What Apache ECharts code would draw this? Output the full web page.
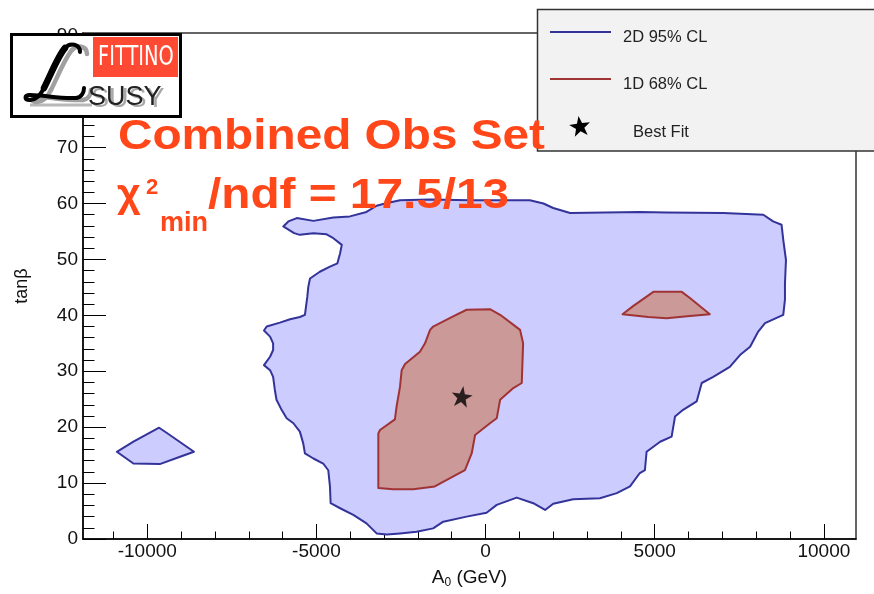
<!DOCTYPE html>
<html><head><meta charset="utf-8">
<script src="https://cdn.jsdelivr.net/npm/echarts@6/dist/echarts.min.js"></script>
<style>html,body{margin:0;padding:0;background:#fff}#c{width:874px;height:594px}</style>
</head><body><div id="c"></div>
<script>
// ---------- data ----------
const xRange = [-11900, 10950];
const yRange = [0, 90.5];
const xMajorTicks = [-10000, -5000, 0, 5000, 10000];
const xMinorTicks = [-11000, -9000, -8000, -7000, -6000, -4000, -3000, -2000, -1000, 1000, 2000, 3000, 4000, 6000, 7000, 8000, 9000];
const yMajorTicks = [0, 10, 20, 30, 40, 50, 60, 70, 80, 90];
const yMinorTicks = [2, 4, 6, 8, 12, 14, 16, 18, 22, 24, 26, 28, 32, 34, 36, 38, 42, 44, 46, 48, 52, 54, 56, 58, 62, 64, 66, 68, 72, 74, 76, 78, 82, 84, 86, 88];

// 2D 95% CL contour (main region), [A0, tanBeta]
const cl95Main = [[-5980,55.9],[-5830,56.8],[-5580,57.4],[-5090,56.9],[-4500,57.5],[-4010,57.7],[-3520,58.5],[-3220,59.6],[-2970,60.0],[-2530,60.6],[-1640,60.7],[-460,60.6],[1310,60.6],[1710,60.0],[2000,59.2],[2500,58.3],[4560,58.5],[5350,58.4],[7030,58.3],[8210,58.0],[8500,56.8],[8750,56.2],[8800,53.5],[8880,49.9],[8850,45.7],[8850,42.8],[8800,40.1],[8260,38.6],[8060,37.1],[7820,34.4],[7520,32.9],[7220,30.8],[6730,29.0],[6390,27.9],[6240,24.6],[5840,23.1],[5600,21.9],[5500,18.3],[5160,17.4],[4760,15.6],[4710,12.3],[4560,11.8],[4270,9.4],[3880,8.2],[3380,7.3],[2590,7.1],[2000,6.3],[1760,5.2],[1410,6.4],[920,7.4],[330,6.1],[30,4.7],[-560,4.0],[-1250,3.1],[-1550,1.9],[-2040,1.3],[-2530,1.0],[-2920,0.8],[-3220,1.0],[-3520,2.8],[-3910,4.3],[-4300,5.5],[-4580,6.4],[-4600,9.4],[-4650,12.3],[-4800,13.5],[-5090,14.4],[-5340,15.3],[-5390,17.1],[-5490,19.2],[-5680,20.7],[-5880,21.6],[-6030,23.1],[-6180,24.9],[-6230,26.7],[-6280,29.0],[-6370,30.2],[-6550,31.1],[-6370,32.6],[-6280,33.8],[-6280,35.0],[-6370,36.2],[-6550,37.3],[-6470,38.0],[-6080,38.7],[-5780,39.3],[-5490,39.7],[-5340,40.1],[-5270,43.3],[-5240,45.1],[-5190,46.6],[-4900,47.8],[-4600,48.7],[-4380,49.3],[-4300,51.1],[-4250,52.6],[-4500,53.8],[-4700,54.5],[-5090,54.7],[-5490,54.4],[-5660,54.7]];
// 2D 95% CL contour (small island)
const cl95Island = [[-10900,15.6],[-10410,17.4],[-9650,19.9],[-9430,19.0],[-8620,15.6],[-9030,14.7],[-9630,13.4],[-10410,13.5]];
// 1D 68% CL contour (main region)
const cl68Main = [[-3170,9.1],[-3170,18.9],[-3120,19.5],[-2680,21.4],[-2630,23.7],[-2530,27.2],[-2480,30.2],[-2380,31.3],[-1940,33.5],[-1790,35.0],[-1640,37.4],[-1550,38.0],[-960,39.8],[-560,41.0],[130,41.1],[430,40.1],[1020,37.4],[1110,35.0],[1070,27.9],[820,27.0],[430,24.9],[330,21.6],[130,20.7],[-310,18.6],[-410,15.3],[-610,12.3],[-1050,10.9],[-1500,9.4],[-2140,8.9],[-2730,8.9]];
// 1D 68% CL contour (small island)
const cl68Island = [[4050,40.2],[4370,41.7],[4960,44.2],[5800,44.2],[6040,43.1],[6630,40.2],[6040,39.9],[5350,39.5],[4810,39.7]];
// best fit point
const bestFit = [[-700, 25.5]];

// ---------- helpers ----------
const FONT = "'Liberation Sans', Arial, Helvetica, sans-serif";
const BLUE_FILL = '#ccccff', BLUE_LINE = '#333399';
const RED_FILL = '#cc9999', RED_LINE = '#a03333';
const ORANGE = '#ff4719';

function starPts(cx, cy, R, r, rotDeg) {
  const pts = [];
  for (let i = 0; i < 10; i++) {
    const a = (-90 + i * 36 + (rotDeg || 0)) * Math.PI / 180;
    const rr = i % 2 ? r : R;
    pts.push([cx + rr * Math.cos(a), cy + rr * Math.sin(a)]);
  }
  return pts;
}
const starSym = 'path://M' + starPts(50, 50, 50, 20, 0).map(p => p[0].toFixed(1) + ',' + p[1].toFixed(1)).join(' L') + ' Z';

function polySeries(name, pts, fill, stroke, z) {
  return {
    type: 'custom', name: name, coordinateSystem: 'cartesian2d', xAxisIndex: 0, yAxisIndex: 0,
    data: [pts[0]], z: z, silent: true, animation: false,
    renderItem: function (params, api) {
      return {
        type: 'polygon',
        shape: { points: pts.map(p => api.coord(p)) },
        style: { fill: fill, stroke: stroke, lineWidth: 2, lineJoin: 'round' }
      };
    }
  };
}

function txt(text, x, y, size, color, opts) {
  opts = opts || {};
  return {
    type: 'text', x: x, y: y, z: opts.z || 60, scaleX: opts.scaleX || 1, scaleY: opts.scaleY || 1,
    style: {
      text: text, fontSize: size, fontFamily: opts.family || FONT, fontWeight: opts.weight || 'normal',
      fill: color, align: opts.align || 'left', textAlign: opts.align || 'left',
      verticalAlign: 'middle', textVerticalAlign: 'middle'
    }
  };
}

// chain of cubic segments -> bezierCurve graphic elements (logo glyph)
function curveChain(start, segs, dx, dy, stroke, width, z) {
  const out = [];
  let p = start;
  segs.forEach(s => {
    out.push({ type: 'bezierCurve', z: z,
      shape: { x1: p[0] + dx, y1: p[1] + dy, cpx1: s[0] + dx, cpy1: s[1] + dy, cpx2: s[2] + dx, cpy2: s[3] + dy, x2: s[4] + dx, y2: s[5] + dy },
      style: { fill: null, stroke: stroke, lineWidth: width, lineCap: 'round' } });
    p = [s[4], s[5]];
  });
  return out;
}
const L_START = [80, 52];
const L_SEGS = [[80,44,70,42,65,48],[58,56,52,72,44,88],[40,96,36,100,30,100],[24,100,24,95,30,95],[44,95,60,99,76,98],[82,97,84,92,84,88]];

const axisCommon = {
  type: 'value', splitLine: { show: false }, axisPointer: { show: false }
};

const option = {
  backgroundColor: '#ffffff',
  animation: false,
  grid: { left: 83, top: 33, width: 773, height: 506, containLabel: false, outerBoundsMode: 'none',
          show: true, borderColor: '#333', borderWidth: 1.5, backgroundColor: 'transparent' },
  xAxis: [
    Object.assign({}, axisCommon, {
      min: xRange[0], max: xRange[1], position: 'bottom',
      axisLine: { show: true, onZero: false, lineStyle: { color: '#000', width: 1.5 } },
      axisTick: { show: true, inside: true, length: 15, customValues: xMajorTicks, lineStyle: { color: '#000', width: 1 } },
      axisLabel: { show: true, customValues: xMajorTicks, formatter: v => String(v), fontSize: 19, color: '#111', fontFamily: FONT, margin: 3 },
      name: '{a|A}{s|0}{a| (GeV)}', nameLocation: 'middle', nameGap: 28,
      nameTextStyle: { rich: {
        a: { fontSize: 19, color: '#111', fontFamily: FONT },
        s: { fontSize: 12, color: '#111', fontFamily: FONT, padding: [10, 0, 0, 0] }
      } }
    }),
    Object.assign({}, axisCommon, {
      min: xRange[0], max: xRange[1], position: 'bottom', offset: 0,
      axisLine: { show: false, onZero: false },
      axisTick: { show: true, inside: true, length: 7.5, customValues: xMinorTicks, lineStyle: { color: '#000', width: 1 } },
      axisLabel: { show: false }
    })
  ],
  yAxis: [
    Object.assign({}, axisCommon, {
      min: yRange[0], max: yRange[1], position: 'left',
      axisLine: { show: true, onZero: false, lineStyle: { color: '#000', width: 1.5 } },
      axisTick: { show: true, inside: true, length: 23, customValues: yMajorTicks, lineStyle: { color: '#000', width: 1 } },
      axisLabel: { show: true, customValues: yMajorTicks, formatter: v => String(v), fontSize: 19, color: '#111', fontFamily: FONT, margin: 5 },
      name: 'tan\u03b2', nameLocation: 'middle', nameRotate: 90, nameGap: 52,
      nameTextStyle: { fontSize: 18, color: '#111', fontFamily: FONT }
    }),
    Object.assign({}, axisCommon, {
      min: yRange[0], max: yRange[1], position: 'left', offset: 0,
      axisLine: { show: false, onZero: false },
      axisTick: { show: true, inside: true, length: 11.5, customValues: yMinorTicks, lineStyle: { color: '#000', width: 1 } },
      axisLabel: { show: false }
    })
  ],
  series: [
    polySeries('2D 95% CL', cl95Main, BLUE_FILL, BLUE_LINE, 2),
    polySeries('2D 95% CL island', cl95Island, BLUE_FILL, BLUE_LINE, 2),
    polySeries('1D 68% CL', cl68Main, RED_FILL, RED_LINE, 3),
    polySeries('1D 68% CL island', cl68Island, RED_FILL, RED_LINE, 3),
    { type: 'scatter', name: 'Best Fit', data: bestFit, symbol: starSym, symbolSize: 21, symbolRotate: -8,
      itemStyle: { color: '#000' }, z: 5, silent: true }
  ],
  graphic: { elements: [
    // legend box
    { type: 'rect', z: 60, shape: { x: 537.5, y: 9.5, width: 345, height: 141.5 },
      style: { fill: '#f2f2f2', stroke: '#333', lineWidth: 1.5 } },
    { type: 'line', z: 61, shape: { x1: 550, y1: 32, x2: 611, y2: 32 }, style: { stroke: BLUE_LINE, lineWidth: 2 } },
    txt('2D 95% CL', 623, 37, 16.5, '#222', { z: 61 }),
    { type: 'line', z: 61, shape: { x1: 550, y1: 79, x2: 611, y2: 79 }, style: { stroke: RED_LINE, lineWidth: 2 } },
    txt('1D 68% CL', 623, 84, 16.5, '#222', { z: 61 }),
    { type: 'polygon', z: 61, shape: { points: starPts(580, 127, 11, 4.4, -8) }, style: { fill: '#000' } },
    txt('Best Fit', 633, 132, 16.5, '#222', { z: 61 }),
    // title text (drawn over the legend box)
    txt('Combined Obs Set', 118, 137, 43, ORANGE, { weight: 'bold', z: 65, scaleX: 1.11 }),
    txt('\u03c7', 117, 196, 41, ORANGE, { weight: 'bold', z: 65 }),
    txt('2', 146, 188, 22, ORANGE, { weight: 'bold', z: 65 }),
    txt('min', 160, 224, 27, ORANGE, { weight: 'bold', z: 65 }),
    txt('/ndf = 17.5/13', 208, 196, 43, ORANGE, { weight: 'bold', z: 65, scaleX: 1.11 }),
    // logo
    { type: 'rect', z: 70, shape: { x: 11.5, y: 34.5, width: 169, height: 82 },
      style: { fill: '#fff', stroke: '#000', lineWidth: 3 } },
    { type: 'rect', z: 71, shape: { x: 93, y: 37, width: 85, height: 40 }, style: { fill: '#ff4a33' } },
    txt('FITTINO', 98, 58, 27, '#fff', { z: 72, family: "'Liberation Sans Narrow', 'DejaVu Sans Condensed', sans-serif", scaleX: 0.8 }),
    { type: 'line', z: 71, shape: { x1: 30, y1: 105, x2: 92, y2: 105 }, style: { stroke: '#b8b8b8', lineWidth: 3 } }
  ].concat(
    curveChain(L_START, L_SEGS, 7, 2, '#a0a0a0', 4.5, 71),
    curveChain(L_START, L_SEGS, 0, 0, '#000', 4, 72),
    curveChain([65, 48], [[58,56,52,72,44,88]], 0, 0, '#000', 6.5, 72),
    [ txt('SUSY', 91, 100, 27, '#a8a8a8', { z: 71 }),
      txt('SUSY', 88, 98, 27, '#222', { z: 72 }) ]
  ) }
};

const chart = echarts.init(document.getElementById('c'), null, { renderer: 'canvas' });
chart.setOption(option);
</script>
</body></html>
